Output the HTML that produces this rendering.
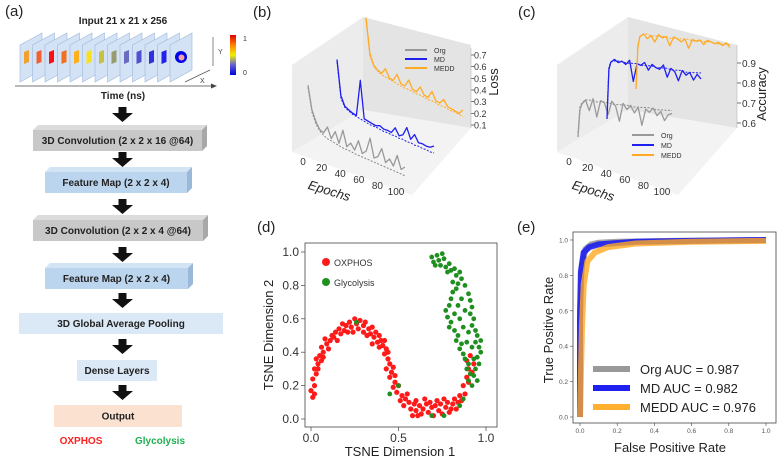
<!DOCTYPE html>
<html><head><meta charset="utf-8">
<style>
html,body{margin:0;padding:0;background:#fff;}
svg{display:block;font-family:"Liberation Sans",Arial,sans-serif;}
</style></head>
<body>
<svg id="fig" width="777" height="461" viewBox="0 0 777 461" xmlns="http://www.w3.org/2000/svg">
<defs>
<linearGradient id="cbar" x1="0" y1="0" x2="0" y2="1">
<stop offset="0" stop-color="#e00000"/><stop offset="0.25" stop-color="#ff8000"/><stop offset="0.5" stop-color="#f0f000"/><stop offset="0.75" stop-color="#6060d0"/><stop offset="1" stop-color="#0000e0"/>
</linearGradient>
</defs>

<!-- PANEL A -->
<g id="panelA">
<text x="5" y="16" font-size="15" fill="#222">(a)</text>
<text x="123" y="24" font-size="10" font-weight="bold" text-anchor="middle" fill="#222">Input 21 x 21 x 256</text>
<g id="frames"></g>
<rect x="230" y="35" width="6" height="40" fill="url(#cbar)"/>
<text x="243" y="41" font-size="7" fill="#333">1</text>
<text x="243" y="75" font-size="7" fill="#333">0</text>
<line x1="213" y1="37" x2="213" y2="66" stroke="#555" stroke-width="0.7"/>
<text x="218" y="54" font-size="7" fill="#444">Y</text>
<line x1="185" y1="82" x2="210" y2="70" stroke="#555" stroke-width="0.7"/>
<text x="200" y="83" font-size="7" fill="#444">X</text>
<line x1="15" y1="86" x2="215" y2="86" stroke="#444" stroke-width="0.8"/>
<polygon points="217,86 211,83.5 211,88.5" fill="#444"/>
<text x="123" y="99" font-size="10" font-weight="bold" text-anchor="middle" fill="#222">Time (ns)</text>
<g id="archBoxes"></g>
<text x="81" y="444" font-size="10" font-weight="bold" text-anchor="middle" fill="#ff2020">OXPHOS</text>
<text x="160" y="444" font-size="10" font-weight="bold" text-anchor="middle" fill="#1fb050">Glycolysis</text>
</g>

<!-- PANEL B -->
<g id="panelB">
<text x="253" y="17" font-size="15" fill="#222">(b)</text>
<polygon points="292,65 363,17 363,110 292,152" fill="#ececec"/>
<polygon points="363,17 471,45 471,128 363,110" fill="#e4e4e4"/>
<polygon points="292,152 363,110 471,128 412,195" fill="#f3f3f3"/>
<g id="lossTicks"></g>
<text transform="translate(498,82) rotate(-90)" font-size="13" text-anchor="middle" fill="#222">Loss</text>
<g id="lossEpochTicks"></g>
<text transform="translate(328,195) rotate(17)" font-size="13" font-style="italic" text-anchor="middle" fill="#222">Epochs</text>
<g id="lossSeries"></g>
<g>
<line x1="405" y1="50" x2="427" y2="50" stroke="#999" stroke-width="2"/><text x="434" y="53" font-size="7" fill="#333">Org</text>
<line x1="405" y1="59" x2="427" y2="59" stroke="#1f1ff0" stroke-width="2"/><text x="434" y="62" font-size="7" fill="#333">MD</text>
<line x1="405" y1="68" x2="427" y2="68" stroke="#ffaa22" stroke-width="2"/><text x="434" y="71" font-size="7" fill="#333">MEDD</text>
</g>
</g>

<!-- PANEL C -->
<g id="panelC">
<text x="518" y="17" font-size="15" fill="#222">(c)</text>
<polygon points="557,65 628,17 628,110 557,152" fill="#ececec"/>
<polygon points="628,17 737,45 737,128 628,110" fill="#e4e4e4"/>
<polygon points="557,152 628,110 737,128 678,195" fill="#f3f3f3"/>
<g id="accTicks"></g>
<text transform="translate(766,94) rotate(-90)" font-size="13" text-anchor="middle" fill="#222">Accuracy</text>
<g id="accEpochTicks"></g>
<text transform="translate(592,195) rotate(17)" font-size="13" font-style="italic" text-anchor="middle" fill="#222">Epochs</text>
<g id="accSeries"></g>
<g>
<line x1="632" y1="135" x2="654" y2="135" stroke="#999" stroke-width="2"/><text x="661" y="138" font-size="7" fill="#333">Org</text>
<line x1="632" y1="145" x2="654" y2="145" stroke="#1f1ff0" stroke-width="2"/><text x="661" y="148" font-size="7" fill="#333">MD</text>
<line x1="632" y1="155" x2="654" y2="155" stroke="#ffaa22" stroke-width="2"/><text x="661" y="158" font-size="7" fill="#333">MEDD</text>
</g>
</g>

<!-- PANEL D -->
<g id="panelD">
<text x="257" y="232" font-size="15" fill="#222">(d)</text>
<g id="tsneTicks"></g>
<g id="tsnePoints"></g>
<rect x="305" y="243" width="192" height="184" fill="none" stroke="#444" stroke-width="0.8"/>
<circle cx="326" cy="262" r="4" fill="#ff1a1a"/>
<text x="334" y="266" font-size="9" fill="#333">OXPHOS</text>
<circle cx="326" cy="282" r="4" fill="#1f8f1f"/>
<text x="334" y="286" font-size="9" fill="#333">Glycolysis</text>
<text x="400" y="456" font-size="13" text-anchor="middle" fill="#222">TSNE Dimension 1</text>
<text transform="translate(273,335) rotate(-90)" font-size="13" text-anchor="middle" fill="#222">TSNE Dimension 2</text>
</g>

<!-- PANEL E -->
<g id="panelE">
<text x="517" y="232" font-size="15" fill="#222">(e)</text>
<g id="rocTicks"></g>
<g id="rocCurves"></g>
<rect x="573" y="232" width="203" height="191" fill="none" stroke="#444" stroke-width="0.8"/>
<g>
<line x1="593" y1="369" x2="630" y2="369" stroke="#999" stroke-width="6"/><text x="640" y="374" font-size="13" fill="#222">Org AUC = 0.987</text>
<line x1="593" y1="388" x2="630" y2="388" stroke="#1f1ff0" stroke-width="6"/><text x="640" y="393" font-size="13" fill="#222">MD AUC = 0.982</text>
<line x1="593" y1="407" x2="630" y2="407" stroke="#ffb030" stroke-width="6"/><text x="640" y="412" font-size="13" fill="#222">MEDD AUC = 0.976</text>
</g>
<text x="670" y="452" font-size="13" text-anchor="middle" fill="#222">False Positive Rate</text>
<text transform="translate(553,330) rotate(-90)" font-size="13" text-anchor="middle" fill="#222">True Positive Rate</text>
</g>
</svg>

<script>
// ---- Loss data (epochs sampled every 4) ----
const lossEpochs = [0,4,8,12,16,20,24,28,32,36,40,44,48,52,56,60,64,68,72,76,80,84,88,92,96,100];
const lossOrgTrain = [0.62,0.42,0.33,0.27,0.25,0.31,0.22,0.29,0.20,0.32,0.19,0.23,0.18,0.27,0.17,0.20,0.32,0.16,0.18,0.26,0.15,0.19,0.14,0.24,0.13,0.16];
const lossOrgVal   = [0.60,0.40,0.31,0.26,0.23,0.21,0.20,0.19,0.18,0.17,0.165,0.16,0.15,0.145,0.14,0.135,0.13,0.125,0.12,0.115,0.11,0.105,0.10,0.095,0.09,0.085];
const lossMDTrain  = [0.60,0.30,0.22,0.20,0.18,0.17,0.48,0.16,0.15,0.14,0.13,0.14,0.12,0.12,0.11,0.16,0.10,0.12,0.19,0.10,0.15,0.09,0.09,0.08,0.08,0.10];
const lossMDVal    = [0.58,0.28,0.21,0.19,0.17,0.16,0.15,0.14,0.13,0.12,0.12,0.11,0.10,0.10,0.09,0.09,0.08,0.08,0.07,0.07,0.06,0.06,0.05,0.05,0.04,0.04];
const lossMEDDTrain= [0.72,0.42,0.33,0.30,0.28,0.33,0.26,0.25,0.31,0.24,0.23,0.29,0.22,0.21,0.26,0.20,0.19,0.25,0.18,0.17,0.21,0.16,0.15,0.14,0.13,0.17];
const lossMEDDVal  = [0.70,0.40,0.32,0.29,0.27,0.26,0.25,0.24,0.23,0.22,0.21,0.21,0.20,0.19,0.19,0.18,0.17,0.17,0.16,0.15,0.15,0.14,0.13,0.13,0.12,0.11];
const lossTickVals = [0.1,0.2,0.3,0.4,0.5,0.6,0.7];
const epochTickVals = [0,20,40,60,80,100];

// ---- Accuracy data ----
const accEpochs = [0,2,4,8,12,16,20,24,28,32,36,40,44,48,52,56,60,64,68,72,76,80,84,88,92,96,100];
const accOrgTrain = [0.52,0.70,0.74,0.77,0.70,0.78,0.66,0.77,0.76,0.68,0.77,0.74,0.64,0.76,0.72,0.75,0.70,0.74,0.62,0.73,0.71,0.74,0.69,0.72,0.66,0.70,0.71];
const accOrgVal   = [0.55,0.72,0.75,0.77,0.77,0.77,0.76,0.76,0.76,0.76,0.75,0.75,0.75,0.75,0.75,0.74,0.74,0.74,0.74,0.74,0.74,0.73,0.73,0.73,0.73,0.73,0.73];
const accMDTrain  = [0.52,0.85,0.90,0.92,0.90,0.91,0.89,0.92,0.78,0.90,0.89,0.91,0.86,0.90,0.88,0.87,0.90,0.82,0.88,0.86,0.80,0.87,0.84,0.86,0.81,0.85,0.82];
const accMDVal    = [0.55,0.87,0.90,0.91,0.91,0.91,0.90,0.90,0.90,0.90,0.89,0.89,0.89,0.89,0.88,0.88,0.88,0.88,0.87,0.87,0.87,0.87,0.86,0.86,0.86,0.86,0.86];
const accMEDDTrain= [0.60,0.88,0.95,0.97,0.94,0.96,0.92,0.97,0.95,0.96,0.90,0.96,0.95,0.93,0.95,0.89,0.95,0.94,0.95,0.92,0.95,0.94,0.93,0.94,0.92,0.94,0.91];
const accMEDDVal  = [0.62,0.90,0.95,0.97,0.97,0.96,0.96,0.96,0.96,0.96,0.95,0.95,0.95,0.95,0.95,0.95,0.94,0.94,0.94,0.94,0.94,0.94,0.93,0.93,0.93,0.93,0.93];
const accTickVals = [0.6,0.7,0.8,0.9];

// ---- t-SNE data ----
const tsneOxphos = [[0.01,0.13],[0.0,0.17],[0.02,0.2],[0.01,0.24],[0.03,0.27],[0.02,0.3],[0.04,0.33],[0.03,0.36],[0.05,0.38],[0.06,0.35],[0.07,0.4],[0.06,0.43],[0.09,0.45],[0.08,0.48],[0.11,0.47],[0.12,0.5],[0.14,0.52],[0.13,0.49],[0.16,0.54],[0.17,0.51],[0.19,0.53],[0.2,0.56],[0.22,0.58],[0.23,0.55],[0.25,0.6],[0.26,0.57],[0.28,0.59],[0.27,0.54],[0.3,0.56],[0.31,0.58],[0.33,0.54],[0.34,0.51],[0.35,0.55],[0.37,0.52],[0.36,0.49],[0.39,0.5],[0.4,0.47],[0.41,0.44],[0.39,0.43],[0.43,0.42],[0.42,0.39],[0.44,0.36],[0.45,0.33],[0.43,0.3],[0.46,0.28],[0.47,0.31],[0.45,0.25],[0.48,0.22],[0.47,0.19],[0.5,0.2],[0.49,0.16],[0.52,0.14],[0.51,0.11],[0.54,0.12],[0.53,0.08],[0.56,0.1],[0.57,0.06],[0.58,0.02],[0.59,0.09],[0.6,0.05],[0.62,0.08],[0.63,0.03],[0.64,0.06],[0.66,0.09],[0.67,0.04],[0.69,0.07],[0.7,0.02],[0.71,0.08],[0.73,0.05],[0.74,0.09],[0.75,0.03],[0.77,0.07],[0.78,0.1],[0.8,0.06],[0.81,0.09],[0.82,0.12],[0.84,0.1],[0.85,0.14],[0.86,0.11],[0.88,0.15],[0.87,0.2],[0.89,0.25],[0.9,0.22],[0.9,0.3],[0.92,0.28],[0.89,0.35],[0.91,0.38],[0.93,0.33],[0.35,0.45],[0.3,0.52],[0.21,0.52],[0.15,0.47],[0.1,0.42],[0.04,0.3],[0.55,0.15],[0.6,0.11],[0.65,0.12],[0.72,0.11],[0.48,0.26],[0.42,0.47],[0.38,0.46],[0.18,0.57],[0.24,0.52],[0.02,0.15],[0.76,0.12],[0.83,0.06],[0.32,0.5],[0.44,0.4],[0.07,0.37],[0.61,0.02],[0.68,0.1],[0.79,0.04]];
const tsneGlyco = [[0.69,0.97],[0.7,0.94],[0.72,0.98],[0.73,0.95],[0.74,0.92],[0.76,0.96],[0.77,0.91],[0.79,0.93],[0.8,0.89],[0.82,0.9],[0.83,0.86],[0.85,0.88],[0.86,0.84],[0.84,0.81],[0.83,0.78],[0.81,0.76],[0.8,0.72],[0.79,0.68],[0.77,0.65],[0.78,0.61],[0.8,0.58],[0.79,0.55],[0.82,0.53],[0.84,0.5],[0.83,0.47],[0.86,0.45],[0.85,0.42],[0.87,0.39],[0.88,0.36],[0.9,0.33],[0.89,0.3],[0.91,0.27],[0.9,0.23],[0.92,0.2],[0.9,0.75],[0.91,0.71],[0.92,0.67],[0.91,0.63],[0.93,0.6],[0.92,0.56],[0.94,0.53],[0.95,0.5],[0.94,0.46],[0.96,0.43],[0.97,0.4],[0.95,0.37],[0.96,0.33],[0.94,0.3],[0.93,0.26],[0.95,0.23],[0.87,0.55],[0.85,0.6],[0.88,0.65],[0.84,0.68],[0.86,0.72],[0.78,0.88],[0.81,0.82],[0.89,0.46],[0.97,0.47],[0.92,0.43],[0.5,0.2],[0.45,0.15],[0.69,0.02],[0.76,0.02],[0.85,0.08],[0.87,0.12],[0.26,0.58],[0.75,0.99],[0.71,0.92],[0.88,0.8],[0.82,0.63],[0.9,0.52],[0.93,0.36]];
const tsneTickVals = [0.0,0.5,1.0];
const tsneYTickVals = [0.0,0.2,0.4,0.6,0.8,1.0];

// ---- ROC data ----
const rocOrgFpr = [0,0,0.01,0.03,0.06,0.1,0.2,0.5,1];
const rocOrgTpr = [0,0.6,0.86,0.95,0.975,0.985,0.99,0.995,1];
const rocMDFpr  = [0,0,0.005,0.02,0.05,0.1,0.3,0.6,1];
const rocMDTpr  = [0,0.55,0.82,0.93,0.96,0.975,0.99,0.995,1];
const rocMEDDFpr= [0,0.01,0.02,0.04,0.08,0.15,0.3,0.6,1];
const rocMEDDTpr= [0,0.5,0.75,0.88,0.93,0.96,0.98,0.99,0.995];
const rocTickVals = [0.0,0.2,0.4,0.6,0.8,1.0];

// ---- Panel a frames ----
const frameColors = ['#f0a030','#f06030','#ff1010','#f07020','#ffb020','#f8e020','#c8c040','#9a9a70','#6a6ac0','#5050d0','#3030e0','#2020f0','#0000ff'];

const NS = 'http://www.w3.org/2000/svg';
function mk(tag, attrs, parent){const e=document.createElementNS(NS,tag);for(const k in attrs)e.setAttribute(k,attrs[k]);parent.appendChild(e);return e;}

// Frames
const fr = document.getElementById('frames');
frameColors.forEach((c,i)=>{
  const x=20+i*12.5;
  const p=mk('polygon',{points:`${x},${45} ${x+22},${33} ${x+22},${70} ${x},${82}`,fill:'#d3e2f4',stroke:'#9bb7dc','stroke-width':0.6},fr);
  
  
  if(i<12){
    const b=mk('polygon',{points:`${x+4},${52} ${x+9},${50} ${x+9},${62} ${x+4},${64}`,fill:c},fr);
    
    
  } else {
    mk('circle',{cx:x+11,cy:57,r:6,fill:'#0000ee'},fr);
    mk('circle',{cx:x+11.5,cy:57.5,r:3,fill:'#f5a0a0'},fr);
  }
});

// Architecture boxes
const ab = document.getElementById('archBoxes');
const boxes = [
  {y:130,x1:33,x2:202,h:21,d:5,front:'#c8c8c8',top:'#dcdcdc',side:'#a8a8a8',label:'3D Convolution (2 x 2 x 16 @64)',name:'conv3d-block-1'},
  {y:172,x1:45,x2:187,h:21,d:5,front:'#bcd5ee',top:'#d3e4f5',side:'#9ab8d8',label:'Feature Map (2 x 2 x 4)',name:'feature-map-block-1'},
  {y:220,x1:33,x2:203,h:21,d:5,front:'#c8c8c8',top:'#dcdcdc',side:'#a8a8a8',label:'3D Convolution (2 x 2 x 4 @64)',name:'conv3d-block-2'},
  {y:268,x1:45,x2:188,h:21,d:5,front:'#bcd5ee',top:'#d3e4f5',side:'#9ab8d8',label:'Feature Map (2 x 2 x 4)',name:'feature-map-block-2'},
  {y:313,x1:19,x2:223,h:21,d:0,front:'#dbe8f6',label:'3D Global Average Pooling',name:'global-avg-pooling-block'},
  {y:360,x1:77,x2:157,h:21,d:0,front:'#dbe8f6',label:'Dense Layers',name:'dense-layers-block'},
  {y:405,x1:54,x2:182,h:22,d:0,front:'#fbe1d0',label:'Output',name:'output-block'}
];
const arrowTops=[107,152,199,247,293,339,385];
arrowTops.forEach(t=>{
  const g=mk('g',{},ab);
  
  
  mk('rect',{x:118.5,y:t,width:8,height:7,fill:'#111'},g);
  mk('polygon',{points:`${112},${t+6} ${133},${t+6} ${122.5},${t+15}`,fill:'#111'},g);
});
boxes.forEach(b=>{
  const g=mk('g',{},ab);
  
  
  if(b.d>0){
    mk('polygon',{points:`${b.x1},${b.y} ${b.x1+b.d},${b.y-b.d} ${b.x2+b.d},${b.y-b.d} ${b.x2},${b.y}`,fill:b.top},g);
    mk('polygon',{points:`${b.x2},${b.y} ${b.x2+b.d},${b.y-b.d} ${b.x2+b.d},${b.y+b.h-b.d} ${b.x2},${b.y+b.h}`,fill:b.side},g);
  }
  mk('rect',{x:b.x1,y:b.y,width:b.x2-b.x1,height:b.h,fill:b.front},g);
  const t=mk('text',{x:(b.x1+b.x2)/2,y:b.y+b.h/2+3.5,'font-size':10,'font-weight':'bold','text-anchor':'middle',fill:'#222'},g);
  t.textContent=b.label;
});

// ---- Panel B projection ----
function projL(ep,s,v){return [308+ep*0.97+s*29, 146+ep*0.28-s*28-(v-0.1)*117];}
const lossTk=document.getElementById('lossTicks');
lossTickVals.forEach(v=>{
  const y=125-(v-0.1)*(70/0.6);
  const l=mk('line',{x1:471,y1:y,x2:474,y2:y,stroke:'#333','stroke-width':0.7},lossTk);
  
  
  const t=mk('text',{x:474,y:y+3.5,'font-size':9,fill:'#333'},lossTk);
  
  
  t.textContent=v.toFixed(1);
});
mk('line',{x1:471,y1:48,x2:471,y2:128,stroke:'#aaa','stroke-width':0.5},lossTk);
const lossEp=document.getElementById('lossEpochTicks');
epochTickVals.forEach(e=>{
  const t=mk('text',{x:303+e*0.93,y:165+e*0.3,'font-size':10,fill:'#333','text-anchor':'middle'},lossEp);
  
  
  t.textContent=e;
});
function drawSeries(group,proj,eps,vals,s,color,dashed,name){
  const pts=eps.map((e,i)=>proj(e,s,vals[i]).map(n=>n.toFixed(1)).join(',')).join(' ');
  const p=mk('polyline',{points:pts,fill:'none',stroke:color,'stroke-width':dashed?1:1.3,'stroke-dasharray':dashed?'2,1.5':'none','stroke-linejoin':'round'},group);
  
  
}
const ls=document.getElementById('lossSeries');
drawSeries(ls,projL,lossEpochs,lossOrgVal,0,'#888',true,'org-val-loss-line');
drawSeries(ls,projL,lossEpochs,lossOrgTrain,0,'#999',false,'org-train-loss-line');
drawSeries(ls,projL,lossEpochs,lossMDVal,1,'#2020f0',true,'md-val-loss-line');
drawSeries(ls,projL,lossEpochs,lossMDTrain,1,'#1f1ff0',false,'md-train-loss-line');
drawSeries(ls,projL,lossEpochs,lossMEDDVal,2,'#ffaa22',true,'medd-val-loss-line');
drawSeries(ls,projL,lossEpochs,lossMEDDTrain,2,'#ffaa22',false,'medd-train-loss-line');

// ---- Panel C projection ----
function projA(ep,s,v){return [578+ep*0.94+s*29, 215+ep*0.05-s*18-v*150];}
const accTk=document.getElementById('accTicks');
accTickVals.forEach(v=>{
  const y=123-(v-0.6)*200;
  const l=mk('line',{x1:737,y1:y,x2:741,y2:y,stroke:'#333','stroke-width':0.7},accTk);
  
  
  const t=mk('text',{x:742,y:y+4,'font-size':10,fill:'#333'},accTk);
  
  
  t.textContent=v.toFixed(1);
});
mk('line',{x1:737,y1:45,x2:737,y2:128,stroke:'#aaa','stroke-width':0.5},accTk);
const accEp=document.getElementById('accEpochTicks');
epochTickVals.forEach(e=>{
  const t=mk('text',{x:569+e*0.93,y:165+e*0.3,'font-size':10,fill:'#333','text-anchor':'middle'},accEp);
  
  
  t.textContent=e;
});
const as=document.getElementById('accSeries');
drawSeries(as,projA,accEpochs,accOrgVal,0,'#888',true,'org-val-acc-line');
drawSeries(as,projA,accEpochs,accOrgTrain,0,'#999',false,'org-train-acc-line');
drawSeries(as,projA,accEpochs,accMDVal,1,'#2020f0',true,'md-val-acc-line');
drawSeries(as,projA,accEpochs,accMDTrain,1,'#1f1ff0',false,'md-train-acc-line');
drawSeries(as,projA,accEpochs,accMEDDVal,2,'#ffaa22',true,'medd-val-acc-line');
drawSeries(as,projA,accEpochs,accMEDDTrain,2,'#ffaa22',false,'medd-train-acc-line');

// ---- Panel D ----
function tx(v){return 311+v*175;}
function ty(v){return 419-v*167;}
const tt=document.getElementById('tsneTicks');
tsneTickVals.forEach(v=>{
  mk('line',{x1:tx(v),y1:427,x2:tx(v),y2:431,stroke:'#444','stroke-width':0.7},tt);
  const t=mk('text',{x:tx(v),y:442,'font-size':12,'text-anchor':'middle',fill:'#333'},tt);
  
  
  t.textContent=v.toFixed(1);
});
tsneYTickVals.forEach(v=>{
  mk('line',{x1:301,y1:ty(v),x2:305,y2:ty(v),stroke:'#444','stroke-width':0.7},tt);
  const t=mk('text',{x:299,y:ty(v)+4,'font-size':12,'text-anchor':'end',fill:'#333'},tt);
  
  
  t.textContent=v.toFixed(1);
});
const tp=document.getElementById('tsnePoints');
tsneOxphos.forEach(p=>{
  const c=mk('circle',{cx:tx(p[0]),cy:ty(p[1]),r:2.6,fill:'#ff1a1a'},tp);
  
  
});
tsneGlyco.forEach(p=>{
  const c=mk('circle',{cx:tx(p[0]),cy:ty(p[1]),r:2.4,fill:'#1f8f1f'},tp);
  
  
});

// ---- Panel E ----
function rx(v){return 580+v*186;}
function ry(v){return 417-v*177;}
const rt=document.getElementById('rocTicks');
rocTickVals.forEach(v=>{
  mk('line',{x1:rx(v),y1:423,x2:rx(v),y2:426,stroke:'#444','stroke-width':0.6},rt);
  const t=mk('text',{x:rx(v),y:433,'font-size':6.5,'text-anchor':'middle',fill:'#555'},rt);
  
  
  t.textContent=v.toFixed(1);
  mk('line',{x1:570,y1:ry(v),x2:573,y2:ry(v),stroke:'#444','stroke-width':0.6},rt);
  const t2=mk('text',{x:568,y:ry(v)+2.5,'font-size':6.5,'text-anchor':'end',fill:'#555'},rt);
  
  
  t2.textContent=v.toFixed(1);
});
const rc=document.getElementById('rocCurves');
function rocLine(f,t,color,op,name){
  const pts=f.map((v,i)=>rx(v).toFixed(1)+','+ry(t[i]).toFixed(1)).join(' ');
  const p=mk('polyline',{points:pts,fill:'none',stroke:color,'stroke-width':6,'stroke-opacity':op,'stroke-linejoin':'round'},rc);
  
  
}
rocLine(rocOrgFpr,rocOrgTpr,'#999',0.9,'org-roc-curve');
rocLine(rocMDFpr,rocMDTpr,'#1f1ff0',0.9,'md-roc-curve');
rocLine(rocMEDDFpr,rocMEDDTpr,'#ffa820',0.8,'medd-roc-curve');
</script>
</body></html>
